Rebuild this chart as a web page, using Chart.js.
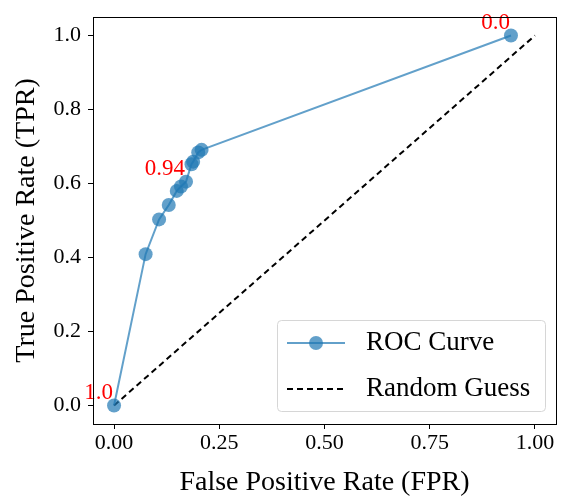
<!DOCTYPE html>
<html>
<head>
<meta charset="utf-8">
<script src="https://cdn.jsdelivr.net/npm/chart.js@4"></script>
<style>
  html, body { margin: 0; padding: 0; background: #fff; }
  #wrap { width: 563px; height: 499px; }
</style>
</head>
<body>
<div id="wrap"><canvas id="rocChart"></canvas></div>
<script>
// ROC points (false positive rate / true positive rate)
var fpr = [0, 0.075, 0.107, 0.130, 0.149, 0.159, 0.171, 0.184, 0.188, 0.200, 0.208, 0.943];
var tpr = [0, 0.409, 0.503, 0.542, 0.580, 0.592, 0.605, 0.652, 0.659, 0.684, 0.691, 1.0];
// threshold labels shown next to some points
var thresholdLabels = ['1.0', '', '', '', '', '', '0.94', '', '', '', '', '0.0'];
// diagonal reference
var guessX = [0, 1];
var guessY = [0, 1];
var xTicks = [0, 0.25, 0.5, 0.75, 1.0];
var yTicks = [0, 0.2, 0.4, 0.6, 0.8, 1.0];

var serif = '"Liberation Serif", "Times New Roman", serif';
var rocColor = 'rgba(31, 119, 180, 0.7)';

function toPoints(xs, ys) {
    return xs.map(function (x, i) { return { x: x, y: ys[i] }; });
}

// frame around the plot area
var frame = {
    id: 'frame',
    afterDraw: function (chart) {
        var a = chart.chartArea, c = chart.ctx;
        c.save();
        c.strokeStyle = '#000';
        c.lineWidth = 1;
        c.strokeRect(Math.round(a.left) + 0.5, Math.round(a.top) + 0.5,
            Math.round(a.right - a.left), Math.round(a.bottom - a.top));
        c.restore();
    }
};

// red threshold text at labelled points
var pointText = {
    id: 'pointText',
    afterDatasetsDraw: function (chart) {
        var c = chart.ctx;
        var meta = chart.getDatasetMeta(0);
        c.save();
        c.fillStyle = 'red';
        c.font = '23px ' + serif;
        c.textAlign = 'right';
        c.textBaseline = 'alphabetic';
        meta.data.forEach(function (pt, i) {
            if (thresholdLabels[i]) c.fillText(thresholdLabels[i], pt.x - 1, pt.y - 7);
        });
        c.restore();
    }
};

// legend box in the lower right
var legendBox = {
    id: 'legendBox',
    afterDraw: function (chart) {
        var c = chart.ctx;
        var x = 277.5, y = 320.5, w = 268, h = 91, r = 4;
        c.save();
        c.beginPath();
        c.moveTo(x + r, y);
        c.arcTo(x + w, y, x + w, y + h, r);
        c.arcTo(x + w, y + h, x, y + h, r);
        c.arcTo(x, y + h, x, y, r);
        c.arcTo(x, y, x + w, y, r);
        c.closePath();
        c.fillStyle = 'rgba(255,255,255,0.8)';
        c.fill();
        c.strokeStyle = '#d6d6d6';
        c.lineWidth = 1;
        c.stroke();

        var ds = chart.data.datasets;
        // ROC entry
        c.strokeStyle = ds[0].borderColor;
        c.lineWidth = 2;
        c.beginPath();
        c.moveTo(287, 343); c.lineTo(345, 343);
        c.stroke();
        c.fillStyle = ds[0].pointBackgroundColor;
        c.beginPath();
        c.arc(316, 343, 7, 0, Math.PI * 2);
        c.fill();
        // random guess entry
        c.strokeStyle = ds[1].borderColor;
        c.setLineDash(ds[1].borderDash);
        c.beginPath();
        c.moveTo(287, 389); c.lineTo(345, 389);
        c.stroke();
        c.setLineDash([]);

        c.fillStyle = '#000';
        c.font = '27px ' + serif;
        c.textAlign = 'left';
        c.textBaseline = 'middle';
        c.fillText(ds[0].label, 366, 343);
        c.fillText(ds[1].label, 366, 389);
        c.restore();
    }
};

var ctx = document.getElementById('rocChart').getContext('2d');
var rocChart = new Chart(ctx, {
    type: 'scatter',
    data: {
        datasets: [{
            label: 'ROC Curve',
            data: toPoints(fpr, tpr),
            showLine: true,
            borderColor: rocColor,
            borderWidth: 2,
            pointRadius: 7,
            pointHoverRadius: 7,
            pointBackgroundColor: rocColor,
            pointBorderWidth: 0,
            order: 1
        }, {
            label: 'Random Guess',
            data: toPoints(guessX, guessY),
            showLine: true,
            borderColor: '#000',
            borderWidth: 2,
            borderDash: [6, 4],
            pointRadius: 0,
            order: 2
        }]
    },
    options: {
        responsive: true,
        maintainAspectRatio: false,
        animation: false,
        layout: { padding: { left: 0, top: 17, right: 5, bottom: 0 } },
        plugins: {
            legend: { display: false },
            tooltip: { enabled: false }
        },
        scales: {
            x: {
                type: 'linear',
                min: -0.05,
                max: 1.05,
                afterBuildTicks: function (scale) {
                    scale.ticks = xTicks.map(function (v) { return { value: v }; });
                },
                afterFit: function (scale) {
                    scale.height = 75;
                    scale.paddingLeft = 0;
                    scale.paddingRight = 0;
                },
                ticks: {
                    color: '#000',
                    font: { family: serif, size: 22 },
                    padding: 1,
                    callback: function (v) { return v.toFixed(2); }
                },
                grid: { drawOnChartArea: false, drawTicks: true, tickLength: 5, color: '#000' },
                border: { display: true, color: '#000' },
                title: {
                    display: true,
                    text: 'False Positive Rate (FPR)',
                    color: '#000',
                    font: { family: serif, size: 28 },
                    padding: { top: 0, bottom: 0 }
                }
            },
            y: {
                type: 'linear',
                min: -0.05,
                max: 1.05,
                afterBuildTicks: function (scale) {
                    scale.ticks = yTicks.map(function (v) { return { value: v }; });
                },
                afterFit: function (scale) {
                    scale.width = 93;
                    scale.paddingTop = 0;
                    scale.paddingBottom = 0;
                },
                ticks: {
                    color: '#000',
                    font: { family: serif, size: 22 },
                    padding: 7,
                    callback: function (v) { return v.toFixed(1); }
                },
                grid: { drawOnChartArea: false, drawTicks: true, tickLength: 5, color: '#000' },
                border: { display: true, color: '#000' },
                title: {
                    display: true,
                    text: 'True Positive Rate (TPR)',
                    color: '#000',
                    font: { family: serif, size: 28 },
                    padding: { top: 10, bottom: 0 }
                }
            }
        }
    },
    plugins: [frame, pointText, legendBox]
});
</script>
</body>
</html>
